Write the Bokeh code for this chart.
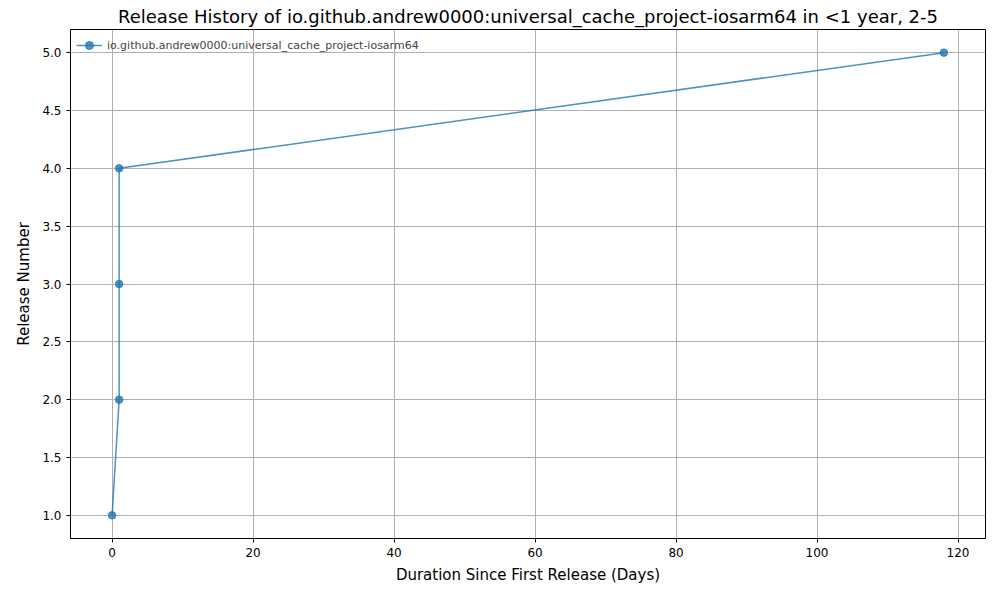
from bokeh.plotting import figure
from bokeh.embed import file_html
from bokeh.resources import INLINE
from bokeh.models import Range1d, FixedTicker, Legend, LegendItem, CustomJSTickFormatter

days = [0, 1, 1, 1, 118]
release = [1, 2, 3, 4, 5]
label = "io.github.andrew0000:universal_cache_project-iosarm64"

p = figure(width=1000, height=600, output_backend="svg", toolbar_location=None,
           title="Release History of io.github.andrew0000:universal_cache_project-iosarm64 in <1 year, 2-5",
           x_range=Range1d(-5.9, 123.9), y_range=Range1d(0.8, 5.2),
           min_border_left=70, min_border_right=15, min_border_bottom=62, min_border_top=18)
p.title.text_font = "DejaVu Sans"
p.title.text_font_size = "18px"
p.title.text_font_style = "normal"
p.title.text_color = "black"
p.title.align = "center"
p.title.offset = 0
p.title.standoff = 6

c = "#1f77b4"
r1 = p.line(days, release, line_color=c, line_alpha=0.8, line_width=1.5)
r2 = p.scatter(days, release, size=7.5, fill_color=c, line_color=c, alpha=0.8)

p.xaxis.ticker = FixedTicker(ticks=[0, 20, 40, 60, 80, 100, 120])
p.yaxis.ticker = FixedTicker(ticks=[1.0, 1.5, 2.0, 2.5, 3.0, 3.5, 4.0, 4.5, 5.0])
p.yaxis.formatter = CustomJSTickFormatter(code="return tick.toFixed(1)")
p.xaxis.axis_label = "Duration Since First Release (Days)"
p.yaxis.axis_label = "Release Number"
for ax in (p.xaxis[0], p.yaxis[0]):
    ax.axis_label_text_font = "DejaVu Sans"
    ax.axis_label_text_font_size = "15px"
    ax.axis_label_text_font_style = "normal"
    ax.major_label_text_font = "DejaVu Sans"
    ax.major_label_text_font_size = "12px"
    ax.minor_tick_line_color = None
    ax.major_tick_in = 0
    ax.major_tick_out = 4
    ax.axis_line_color = "black"
    ax.major_tick_line_color = "black"
    ax.major_label_text_color = "black"
    ax.axis_label_text_color = "black"
    ax.axis_label_standoff = 6

p.grid.grid_line_color = "#b0b0b0"
p.grid.grid_line_alpha = 1
p.outline_line_color = "black"
p.outline_line_alpha = 1

leg = Legend(items=[LegendItem(label=label, renderers=[r1, r2])], location="top_left",
             border_line_color=None, background_fill_alpha=0,
             label_text_font="DejaVu Sans", label_text_font_size="11px",
             glyph_width=26, spacing=0, padding=4, margin=6)
p.add_layout(leg)

open("out.html", "w").write(file_html(p, INLINE))
